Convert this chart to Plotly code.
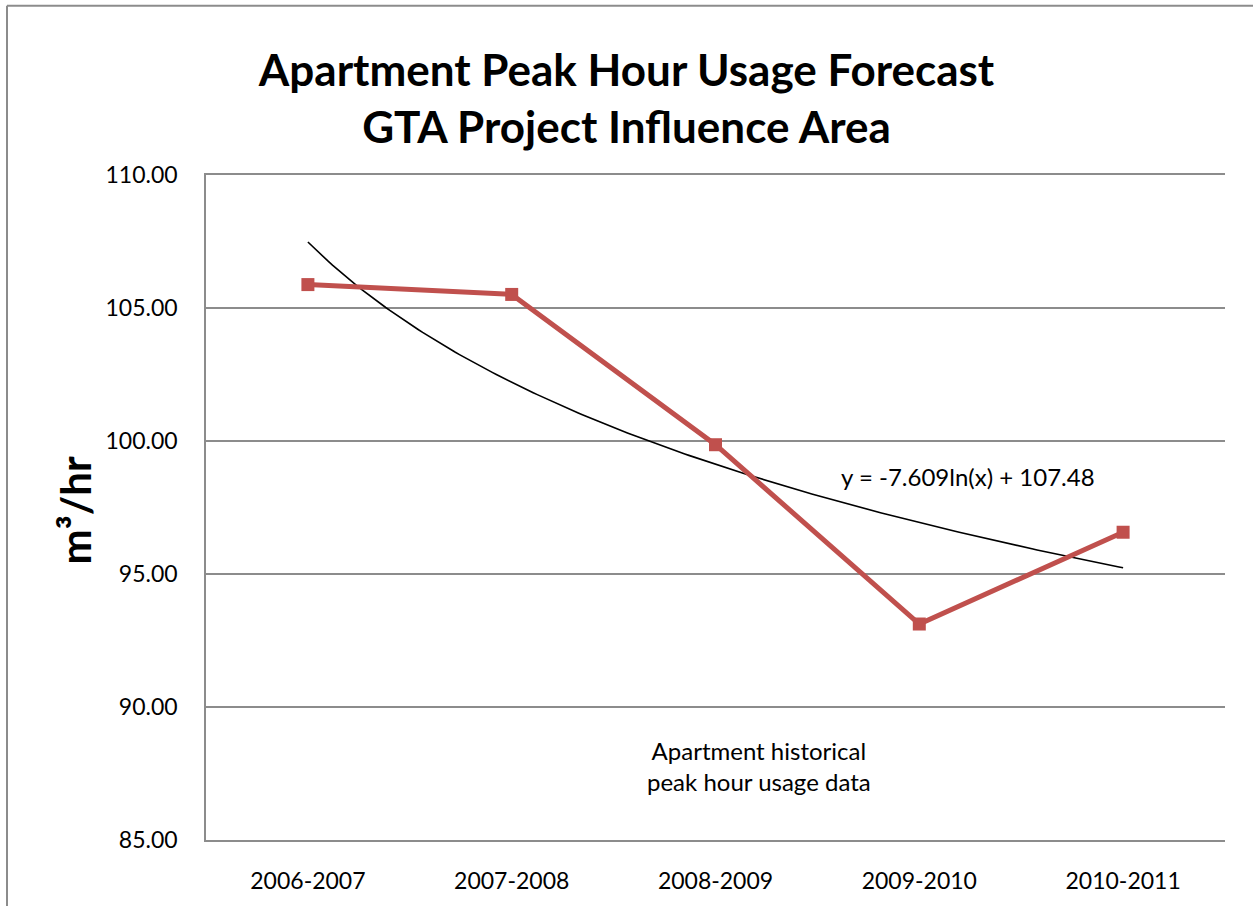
import numpy as np
import plotly.graph_objects as go

# Data
periods = ["2006-2007", "2007-2008", "2008-2009", "2009-2010", "2010-2011"]
peak_usage = [105.88, 105.51, 99.86, 93.12, 96.57]

# Logarithmic trendline as printed on the chart: y = -7.609 ln(x) + 107.48
trend_slope = -7.609
trend_intercept = 107.48
trend_label = "y = -7.609ln(x) + 107.48"

y_ticks = [85, 90, 95, 100, 105, 110]

FONT = "Lato"
RED = "#C0504D"
GRID = "#8C8C8C"

x_idx = list(range(len(periods)))
trend_x = np.linspace(0, len(periods) - 1, 200)
trend_y = trend_slope * np.log(trend_x + 1) + trend_intercept

fig = go.Figure()
fig.add_trace(go.Scatter(
    x=trend_x, y=trend_y, mode="lines",
    line=dict(color="black", width=1.6), hoverinfo="skip", showlegend=False))
fig.add_trace(go.Scatter(
    x=x_idx, y=peak_usage, mode="lines+markers",
    line=dict(color=RED, width=5),
    marker=dict(symbol="square", size=13, color=RED),
    showlegend=False))

W, H = 1253, 906
L, R, T, B = 206, 28, 175, 63
pw, ph = W - L - R, H - T - B

def px(x):
    return (x - L) / pw

def py(y):
    return (H - B - y) / ph

fig.update_layout(
    width=W, height=H,
    margin=dict(l=L, r=R, t=T, b=B),
    paper_bgcolor="white", plot_bgcolor="white",
    font=dict(family=FONT, color="black", size=23),
    title=dict(
        text="Apartment Peak Hour Usage Forecast<br>GTA Project Influence Area",
        x=0.5, xanchor="center", y=1 - 86 / H, yanchor="middle",
        font=dict(family=FONT, size=44, color="black", weight="bold"),
    ),
    xaxis=dict(
        range=[-0.5, len(periods) - 0.5],
        tickmode="array", tickvals=x_idx, ticktext=periods,
        showgrid=False, zeroline=False,
        showline=True, mirror=True, linecolor=GRID, linewidth=1.5,
        ticks="", ticklabelstandoff=20,
        tickfont=dict(size=23),
    ),
    yaxis=dict(
        range=[85, 110], tickmode="array", tickvals=y_ticks,
        tickformat=".2f",
        showgrid=True, gridcolor=GRID, gridwidth=1.5,
        zeroline=False, showline=True, linecolor=GRID, linewidth=1.5,
        ticks="", ticklabelstandoff=22,
        tickfont=dict(size=23),
    ),
    shapes=[
        dict(type="line", xref="paper", yref="paper",
             x0=px(7), x1=px(7), y0=py(5), y1=py(H + 10),
             line=dict(color=GRID, width=2)),
        dict(type="line", xref="paper", yref="paper",
             x0=px(7), x1=px(W + 10), y0=py(5), y1=py(5),
             line=dict(color=GRID, width=2)),
    ],
    annotations=[
        dict(text="<b>m³/hr</b>", xref="paper", yref="paper",
             x=px(75), y=py(512), xanchor="center", yanchor="middle",
             textangle=-90, showarrow=False, font=dict(size=42)),
        dict(text=trend_label, xref="paper", yref="paper",
             x=px(968), y=py(478), xanchor="center", yanchor="middle",
             showarrow=False, font=dict(size=24)),
        dict(text="Apartment historical<br>peak hour usage data",
             xref="paper", yref="paper",
             x=px(759), y=py(769), xanchor="center", yanchor="middle",
             showarrow=False, font=dict(size=24)),
    ],
)

fig.write_html("out.html",
               config={"displayModeBar": False},
               post_script="document.body.style.margin='0';document.body.style.overflow='hidden';")
